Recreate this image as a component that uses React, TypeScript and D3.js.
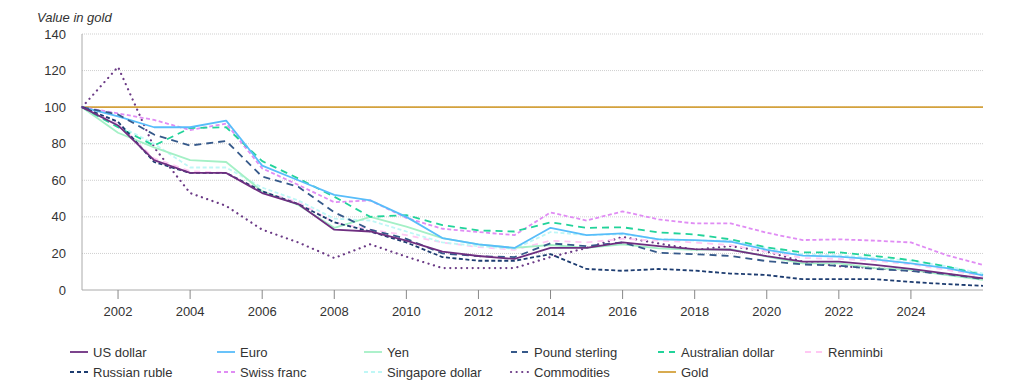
import React from "react";
import * as d3 from "d3";

const years = [2001, 2002, 2003, 2004, 2005, 2006, 2007, 2008, 2009, 2010, 2011, 2012, 2013, 2014, 2015, 2016, 2017, 2018, 2019, 2020, 2021, 2022, 2023, 2024, 2025, 2026];
const tickYears = [2002, 2004, 2006, 2008, 2010, 2012, 2014, 2016, 2018, 2020, 2022, 2024];
const yTicks = [0, 20, 40, 60, 80, 100, 120, 140];

const usDollar = [100, 90, 71, 64, 64, 53, 47, 33, 32, 27, 21, 18.6, 17, 23, 23, 26, 24, 22.3, 22, 18.5, 15.5, 15.5, 13.7, 11.5, 9, 6.4];
const euro = [100, 95, 89, 89, 92.6, 68, 60, 52, 49, 40, 28.4, 25, 23, 34, 30, 31, 27.7, 27.3, 26.4, 22, 18.8, 18.2, 16.8, 14.6, 12, 8];
const yen = [100, 86, 78, 71, 70, 54, 46.5, 34, 40, 34.6, 28.4, 25, 23, 24.6, 23, 25, 22.8, 21.9, 22.3, 18.3, 14.6, 14.6, 12, 11, 8.2, 5.5];
const poundSterling = [100, 96, 85, 79, 81.5, 62, 56.5, 42.5, 33, 28, 20, 18.5, 18, 25.5, 24, 26, 20.4, 19.6, 18.6, 15.8, 14, 13.3, 11.5, 10.4, 8.7, 6];
const australianDollar = [100, 89, 79, 88.6, 89, 70.5, 61, 51, 40, 41, 35.5, 32.6, 32, 37, 34, 34.3, 31.5, 30.4, 27.7, 23.3, 20.6, 20.6, 18.6, 16.4, 12.8, 8.2];
const renminbi = [100, 91, 72, 65, 64, 54, 48, 37, 33, 30, 26, 23.5, 22, 27, 26, 28, 27, 26, 24.5, 21, 17.5, 17, 16, 14, 11, 7.5];
const russianRuble = [100, 92, 70, 64, 64, 54, 47, 37, 32, 26, 18, 16, 16, 19.6, 11.5, 10.5, 11.5, 10.6, 9, 8.2, 5.9, 5.9, 5.9, 4.4, 3.2, 2.3];
const swissFranc = [100, 96.6, 93, 87.5, 91, 66.5, 57.5, 48, 49, 39.4, 33.5, 31.7, 30, 42.4, 38, 43, 38.6, 36.4, 36.4, 31.3, 27.3, 27.7, 27, 26, 19, 13.7];
const singaporeDollar = [100, 90, 80, 67, 67, 56, 49, 39, 38, 32, 26, 24, 22.5, 31.7, 30, 30.5, 28, 27, 27, 23, 19.5, 19, 17.5, 16, 13, 9];
const commodities = [100, 122, 78, 53, 46, 33, 26, 17.5, 25, 18.2, 12, 12, 12, 18, 23, 29, 25.5, 22, 24, 21, 15.5, 13, 12, 10.5, 8.7, 6];
const gold = [100, 100, 100, 100, 100, 100, 100, 100, 100, 100, 100, 100, 100, 100, 100, 100, 100, 100, 100, 100, 100, 100, 100, 100, 100, 100];

const seriesNames = ["US dollar", "Euro", "Yen", "Pound sterling", "Australian dollar", "Renminbi", "Russian ruble", "Swiss franc", "Singapore dollar", "Commodities", "Gold"];
const seriesValues = [usDollar, euro, yen, poundSterling, australianDollar, renminbi, russianRuble, swissFranc, singaporeDollar, commodities, gold];

const styles: Record<string, { color: string; dash: string; width: number; cap?: string }> = {
  "US dollar": { color: "#6e2f80", dash: "", width: 1.8 },
  "Euro": { color: "#58bdfa", dash: "", width: 1.8 },
  "Yen": { color: "#a4f0c6", dash: "", width: 1.8 },
  "Pound sterling": { color: "#36598a", dash: "7,5", width: 1.8 },
  "Australian dollar": { color: "#22d39a", dash: "7,5", width: 1.8 },
  "Renminbi": { color: "#ffc8f3", dash: "6,5", width: 1.8 },
  "Russian ruble": { color: "#1d3c70", dash: "4,2.5", width: 1.8 },
  "Swiss franc": { color: "#e08cf4", dash: "4,2.5", width: 1.8 },
  "Singapore dollar": { color: "#bff7f6", dash: "4,2.5", width: 1.8 },
  "Commodities": { color: "#6b3a86", dash: "0.1,5.5", width: 2.2, cap: "round" },
  "Gold": { color: "#d4a23d", dash: "", width: 1.8 },
};

const W = 1024;
const H = 382;
const left = 82;
const right = 983;
const top = 34;
const bottom = 290;
const font = "'Liberation Sans', Arial, sans-serif";

export default function App() {
  const x = d3.scaleLinear().domain([2001, 2026]).range([left, right]);
  const y = d3.scaleLinear().domain([0, 140]).range([bottom, top]);
  const line = d3
    .line<number>()
    .x((_, i) => x(years[i]))
    .y((v) => y(v));

  const drawOrder = [9, 10, 5, 8, 2, 7, 4, 1, 3, 6, 0];
  const colW = 147;
  return (
    <svg width={W} height={H} style={{ position: "absolute", left: 0, top: 0 }} fontFamily={font}>
      <text x={37} y={22} fontSize={13} fontStyle="italic" fill="#333">Value in gold</text>
      {yTicks.filter((t) => t > 0).map((t) => (
        <line key={"g" + t} x1={left} x2={right} y1={y(t)} y2={y(t)} stroke="#cfcfcf" strokeWidth={1} strokeDasharray="1,1" />
      ))}
      {yTicks.map((t) => (
        <text key={"yl" + t} x={66} y={y(t)} dy="0.35em" textAnchor="end" fontSize={13} fill="#333">{t}</text>
      ))}
      <line x1={left} x2={left} y1={top} y2={bottom} stroke="#aaa" strokeWidth={1} />
      <line x1={left} x2={right} y1={bottom} y2={bottom} stroke="#aaa" strokeWidth={1} />
      {tickYears.map((t) => (
        <g key={"xt" + t}>
          <line x1={x(t)} x2={x(t)} y1={bottom} y2={bottom + 9} stroke="#888" strokeWidth={1} />
          <text x={x(t)} y={316} textAnchor="middle" fontSize={13} fill="#333">{t}</text>
        </g>
      ))}
      {drawOrder.map((i) => {
        const name = seriesNames[i];
        const s = styles[name];
        return (
          <path
            key={name}
            d={line(seriesValues[i]) || ""}
            fill="none"
            stroke={s.color}
            strokeWidth={s.width}
            strokeDasharray={s.dash || undefined}
            strokeLinecap={(s.cap as any) || "butt"}
            strokeLinejoin="round"
          />
        );
      })}
      {seriesNames.map((name, i) => {
        const row = i < 6 ? 0 : 1;
        const col = i < 6 ? i : i - 6;
        const sx = 70 + col * colW;
        const sy = row === 0 ? 352 : 372;
        const s = styles[name];
        return (
          <g key={"lg" + name}>
            <line x1={sx} x2={sx + 18} y1={sy} y2={sy} stroke={s.color} strokeWidth={s.width}
              strokeDasharray={s.dash ? (s.dash === "7,5" || s.dash === "6,5" ? "6,5" : s.dash === "4,2.5" ? "4,3" : s.dash) : undefined}
              strokeLinecap={(s.cap as any) || "butt"} />
            <text x={sx + 23} y={sy} dy="0.35em" fontSize={13} fill="#333">{name}</text>
          </g>
        );
      })}
    </svg>
  );
}
